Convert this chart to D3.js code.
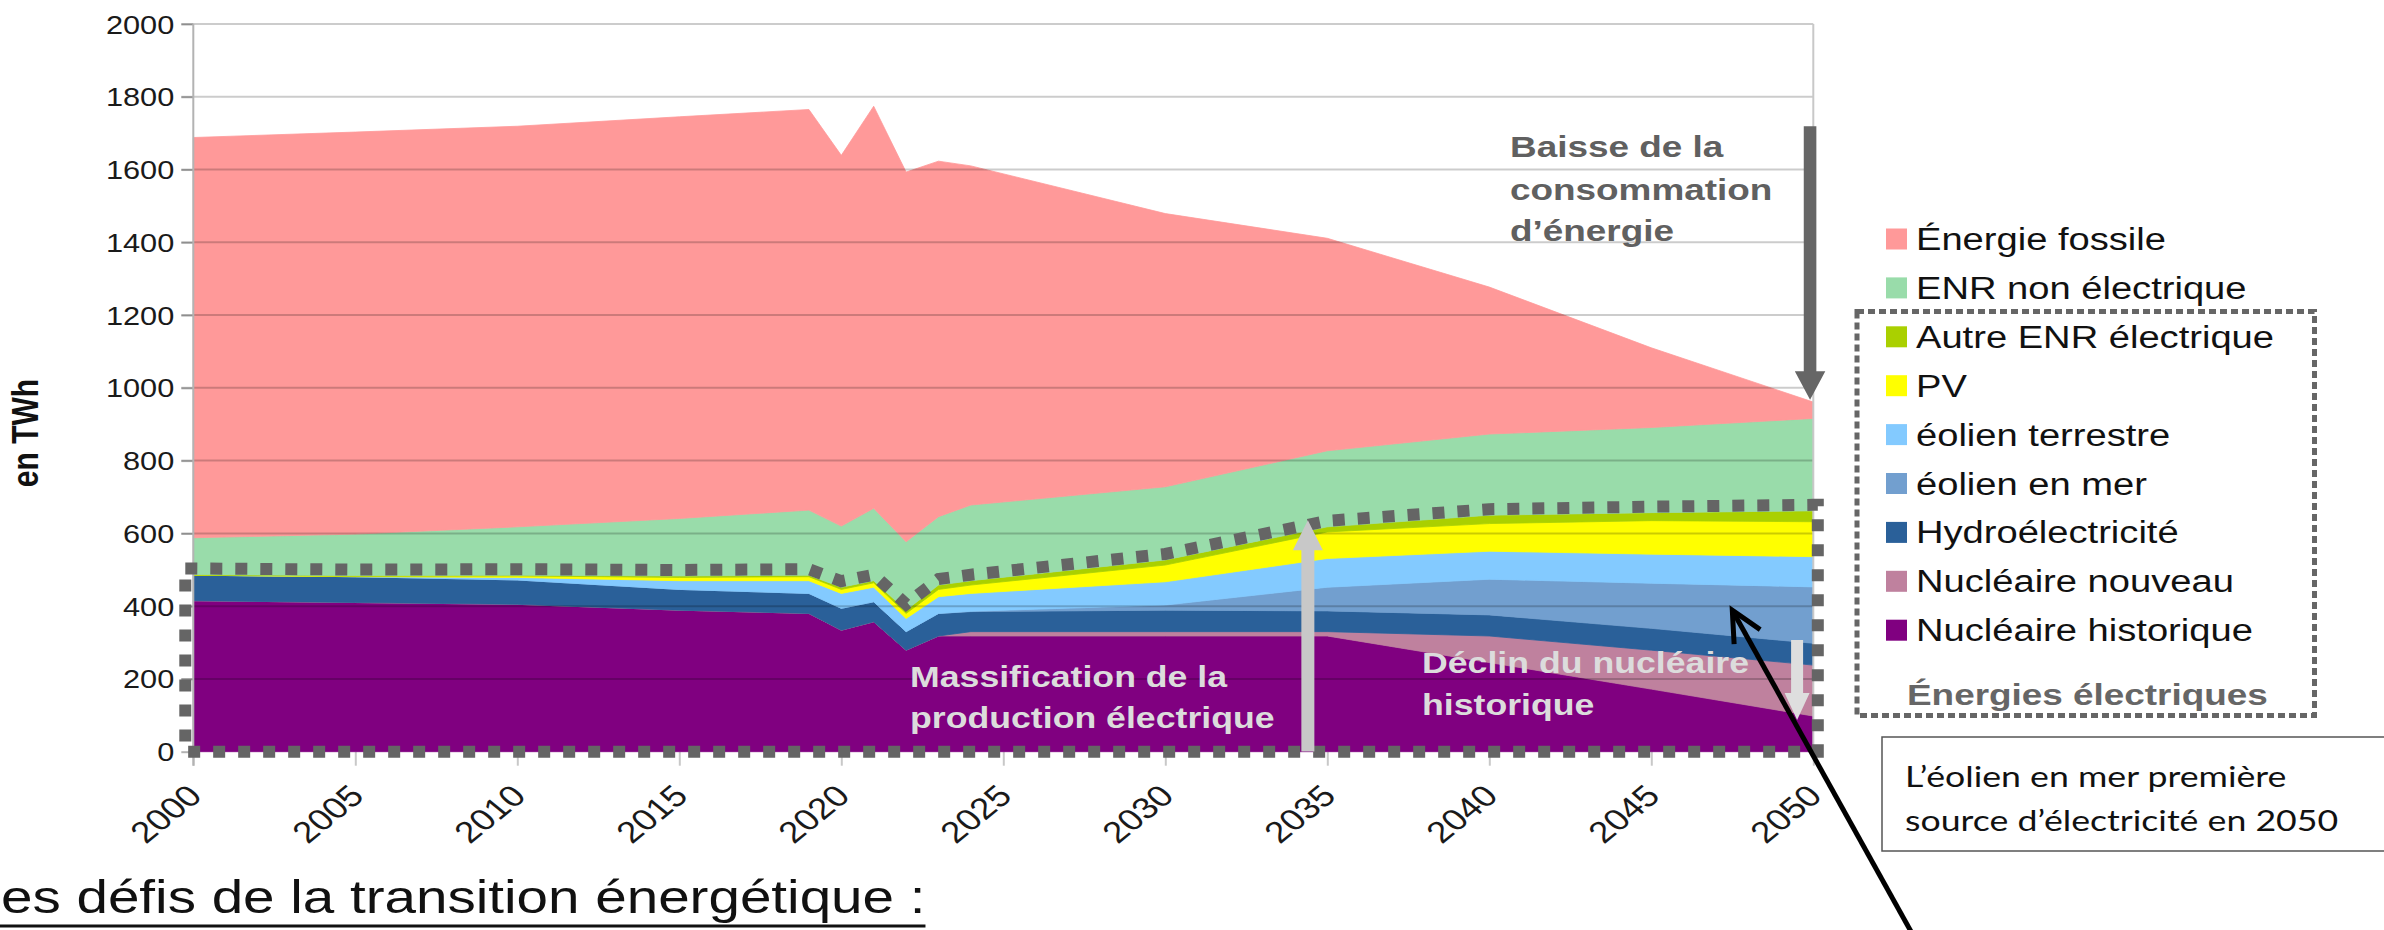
<!DOCTYPE html>
<html>
<head>
<meta charset="utf-8">
<script src="https://cdn.jsdelivr.net/npm/d3@7"></script>
<style>
  html, body { margin: 0; padding: 0; background: #ffffff; overflow: hidden; }
  svg { display: block; }
</style>
</head>
<body>
<svg id="chart" width="2384" height="930"></svg>
<script>
// Consommation d'énergie finale en France, en TWh, par source
const years = [2000, 2005, 2010, 2015, 2019, 2020, 2021, 2022, 2023, 2024, 2030, 2035, 2040, 2045, 2050];
const nucleaireHistorique = [415, 410, 405, 389, 380, 334, 357, 279, 318, 318, 318, 318, 245, 172, 98];
const nucleaireNouveau    = [0, 0, 0, 0, 0, 0, 0, 0, 0, 12, 12, 12, 73, 107, 140];
const hydroelectricite    = [70, 71, 67, 57, 55, 60, 55, 51, 62, 55, 59, 57, 58, 60, 60];
const eolienEnMer         = [0, 0, 0, 0, 0, 0, 0, 0, 0, 1, 14, 65, 98, 124, 155];
const eolienTerrestre     = [0, 0, 7, 24, 35, 41, 40, 36, 46, 49, 64, 79, 77, 80, 83];
const photovoltaique      = [0, 1, 4, 9, 11, 11, 12, 14, 20, 23, 46, 73, 76, 92, 96];
const autreEnrElectrique  = [2, 2, 2, 4, 4, 6, 6, 9, 12, 12, 14, 14, 23, 22, 30];
const enrNonElectrique    = [101, 114, 133, 158, 179, 168, 199, 188, 188, 208, 201, 209, 223, 234, 254];
const energieFossile      = [1100, 1105, 1101, 1104, 1101, 1019, 1105, 1016, 977, 932, 751, 584, 404, 219, 45];

// stacking order, bottom to top
const seriesKeys   = ["nucHist", "nucNouv", "hydro", "eolMer", "eolTerre", "pv", "autre", "enrNonElec", "fossile"];
const seriesValues = [nucleaireHistorique, nucleaireNouveau, hydroelectricite, eolienEnMer, eolienTerrestre,
                      photovoltaique, autreEnrElectrique, enrNonElectrique, energieFossile];
const seriesLabels = ["Nucléaire historique", "Nucléaire nouveau", "Hydroélectricité", "éolien en mer",
                      "éolien terrestre", "PV", "Autre ENR électrique", "ENR non électrique", "Énergie fossile"];
const seriesColors = ["#800080", "#bf819e", "#2a6099", "#729fcf", "#83caff", "#ffff00", "#aad000", "#99dcaa", "#ff9999"];
// the electric sources are the first seven layers
const electricCount = 7;

const yTicks = [0, 200, 400, 600, 800, 1000, 1200, 1400, 1600, 1800, 2000];
const xTicks = [2000, 2005, 2010, 2015, 2020, 2025, 2030, 2035, 2040, 2045, 2050];

const FONT = "'Liberation Sans', Arial, Helvetica, sans-serif";
const SX = 1.23; // horizontal stretch applied to all lettering

const svg = d3.select("#chart");

const x = d3.scaleLinear().domain([2000, 2050]).range([193.3, 1813.3]);
const y = d3.scaleLinear().domain([0, 2000]).range([751.7, 24]);

// ---------- data table & stack ----------
const rows = years.map((yr, i) => {
  const r = { year: yr };
  seriesKeys.forEach((k, j) => { r[k] = seriesValues[j][i]; });
  return r;
});
const stacked = d3.stack().keys(seriesKeys)(rows);
const colorOf = d3.scaleOrdinal().domain(seriesKeys).range(seriesColors);

const area = d3.area()
  .x(d => x(d.data.year))
  .y0(d => y(d[0]))
  .y1(d => y(d[1]));

// ---------- axes ----------
const yAxis = d3.axisLeft(y).tickValues(yTicks).tickSize(12).tickPadding(0).tickFormat(d3.format("d"));
const yAxisG = svg.append("g").attr("transform", `translate(${x.range()[0]},0)`).call(yAxis);
yAxisG.select(".domain").remove();
yAxisG.selectAll(".tick line").attr("stroke", "#b3b3b3").attr("stroke-width", 2);
yAxisG.selectAll(".tick text")
  .attr("x", null).attr("dy", null)
  .attr("transform", `translate(-19,0) scale(${SX},1)`)
  .attr("dy", "0.36em")
  .attr("text-anchor", "end")
  .style("font-family", FONT).style("font-size", "25px").attr("fill", "#1a1a1a");

const xAxis = d3.axisBottom(x).tickValues(xTicks).tickSize(14).tickFormat(d3.format("d"));
const xAxisG = svg.append("g").attr("transform", `translate(0,${y(0)})`).call(xAxis);
xAxisG.select(".domain").remove();
xAxisG.selectAll(".tick line").attr("stroke", "#c8c8c8").attr("stroke-width", 2);
xAxisG.selectAll(".tick text")
  .attr("y", null).attr("dy", null)
  .attr("transform", `translate(10,46) scale(${SX},1) rotate(-45)`)
  .attr("text-anchor", "end")
  .style("font-family", FONT).style("font-size", "30px").attr("fill", "#1a1a1a");

// ---------- stacked areas ----------
svg.append("g").selectAll("path")
  .data(stacked)
  .join("path")
  .attr("d", area)
  .attr("fill", d => colorOf(d.key))
  .attr("stroke", d => colorOf(d.key))
  .attr("stroke-width", 0.8);

// gridlines over the areas
svg.append("g").selectAll("line")
  .data(yTicks.filter(t => t > 0))
  .join("line")
  .attr("x1", x.range()[0] - 12).attr("x2", x.range()[1])
  .attr("y1", d => y(d)).attr("y2", d => y(d))
  .attr("stroke", "rgba(0,0,0,0.2)").attr("stroke-width", 2);

// plot frame: left axis and right border
svg.append("line").attr("x1", x(2000)).attr("x2", x(2000)).attr("y1", y(2000)).attr("y2", y(0) + 14)
  .attr("stroke", "#b3b3b3").attr("stroke-width", 2);
svg.append("line").attr("x1", x(2050)).attr("x2", x(2050)).attr("y1", y(2000)).attr("y2", y(0))
  .attr("stroke", "#c8c8c8").attr("stroke-width", 2);

// ---------- outline of the electric sources ----------
const elecTop = stacked[electricCount - 1];
const half = 6;
const outline = d3.path();
outline.moveTo(x(2000) - 8, y(elecTop[0][1]) - half);
elecTop.forEach(d => outline.lineTo(x(d.data.year), y(d[1]) - half));
outline.lineTo(x(2050) + 4.5, y(elecTop[elecTop.length - 1][1]) - half);
outline.lineTo(x(2050) + 4.5, y(0));
outline.lineTo(x(2000) - 8, y(0));
outline.closePath();
svg.append("path")
  .attr("d", outline.toString())
  .attr("fill", "none")
  .attr("stroke", "#656565")
  .attr("stroke-width", 12)
  .attr("stroke-dasharray", "12,13")
  .attr("stroke-linejoin", "miter");

// ---------- helpers ----------
function label(parent, px, py, str, size, weight, fill, family) {
  return parent.append("text")
    .attr("transform", `translate(${px},${py}) scale(${SX},1)`)
    .style("font-family", family || FONT)
    .style("font-size", size + "px")
    .style("font-weight", weight || "normal")
    .attr("fill", fill || "#111")
    .text(str);
}
function blockArrow(parent, cx, yTail, yTip, shaftW, headW, headL, fill) {
  const dir = yTip < yTail ? -1 : 1;
  const yBase = yTip - dir * headL;
  const pts = [
    [cx - shaftW / 2, yTail], [cx - shaftW / 2, yBase], [cx - headW / 2, yBase], [cx, yTip],
    [cx + headW / 2, yBase], [cx + shaftW / 2, yBase], [cx + shaftW / 2, yTail]
  ];
  parent.append("path").attr("d", d3.line()(pts) + "Z").attr("fill", fill);
}

// ---------- annotations in the plot ----------
const ann = svg.append("g");

// energy consumption decrease
blockArrow(ann, x(2049.9), y(1719), y(967), 12.6, 30.5, 28.6, "#666666");
label(ann, 1510, 157, "Baisse de la", 30, "bold", "#606060");
label(ann, 1510, 200, "consommation", 30, "bold", "#606060");
label(ann, 1510, 241, "d\u2019énergie", 30, "bold", "#606060");

// growth of electricity production
blockArrow(ann, x(2034.4), y(0.5), y(636), 13, 30, 30, "#c8c8c8");
label(ann, 910, 687, "Massification de la", 29, "bold", "#dcdcdc");
label(ann, 910, 728, "production électrique", 29, "bold", "#dcdcdc");

// historical nuclear decline
blockArrow(ann, x(2049.5), y(307), y(87), 12, 25, 27, "#dedede");
label(ann, 1422, 673, "Déclin du nucléaire", 29, "bold", "#dcdcdc");
label(ann, 1422, 715, "historique", 29, "bold", "#dcdcdc");

// Y axis title
ann.append("text")
  .attr("transform", `translate(38,433) scale(${SX},1) rotate(-90)`)
  .attr("text-anchor", "middle")
  .style("font-family", FONT).style("font-size", "30px").style("font-weight", "bold")
  .attr("fill", "#111").text("en TWh");

// ---------- legend ----------
const legend = svg.append("g");
const legendOrder = d3.range(seriesKeys.length).reverse();
legendOrder.forEach((j, i) => {
  const cy = 239 + 48.9 * i;
  legend.append("rect").attr("x", 1886).attr("y", cy - 10.5).attr("width", 21).attr("height", 21)
    .attr("fill", seriesColors[j]);
  label(legend, 1916, cy + 11, seriesLabels[j], 31, "normal", "#111");
});
legend.append("rect")
  .attr("x", 1857).attr("y", 311.5).attr("width", 457.5).attr("height", 404)
  .attr("fill", "none").attr("stroke", "#666").attr("stroke-width", 5)
  .attr("stroke-dasharray", "7,4");
label(legend, 1907, 705, "Énergies électriques", 30, "bold", "#666");

// ---------- callout box ----------
const callout = svg.append("g");
callout.append("rect").attr("x", 1882).attr("y", 737).attr("width", 620).attr("height", 114)
  .attr("fill", "#fff").attr("stroke", "#555").attr("stroke-width", 1.5);
label(callout, 1905, 787, "L\u2019éolien en mer première", 29, "normal", "#111", "Lato, 'Open Sans', sans-serif");
label(callout, 1905, 831, "source d\u2019électricité en 2050", 29, "normal", "#111", "Lato, 'Open Sans', sans-serif");

// pointer from the callout to the offshore wind layer
const tipX = x(2047.5), tipY = y(389);
const ux = 0.486, uy = 0.874;
const tail = [tipX + ux * 400, tipY + uy * 400];
callout.append("line").attr("x1", tipX).attr("y1", tipY).attr("x2", tail[0]).attr("y2", tail[1])
  .attr("stroke", "#000").attr("stroke-width", 5);
const armLen = 34, armAng = 26 * Math.PI / 180;
function rot(vx, vy, a) { return [vx * Math.cos(a) - vy * Math.sin(a), vx * Math.sin(a) + vy * Math.cos(a)]; }
const a1 = rot(ux, uy, armAng), a2 = rot(ux, uy, -armAng);
callout.append("path")
  .attr("d", d3.line()([[tipX + a1[0] * armLen, tipY + a1[1] * armLen], [tipX, tipY], [tipX + a2[0] * armLen, tipY + a2[1] * armLen]]))
  .attr("fill", "none").attr("stroke", "#000").attr("stroke-width", 5).attr("stroke-linejoin", "miter");

// ---------- slide title ----------
const title = svg.append("g");
const t = label(title, 1, 913, "es défis de la transition énergétique :", 46, "normal", "#111");
const tw = t.node().getComputedTextLength() * SX;
title.append("line").attr("x1", 0).attr("x2", 1 + tw).attr("y1", 926).attr("y2", 926)
  .attr("stroke", "#111").attr("stroke-width", 3);
</script>
</body>
</html>
